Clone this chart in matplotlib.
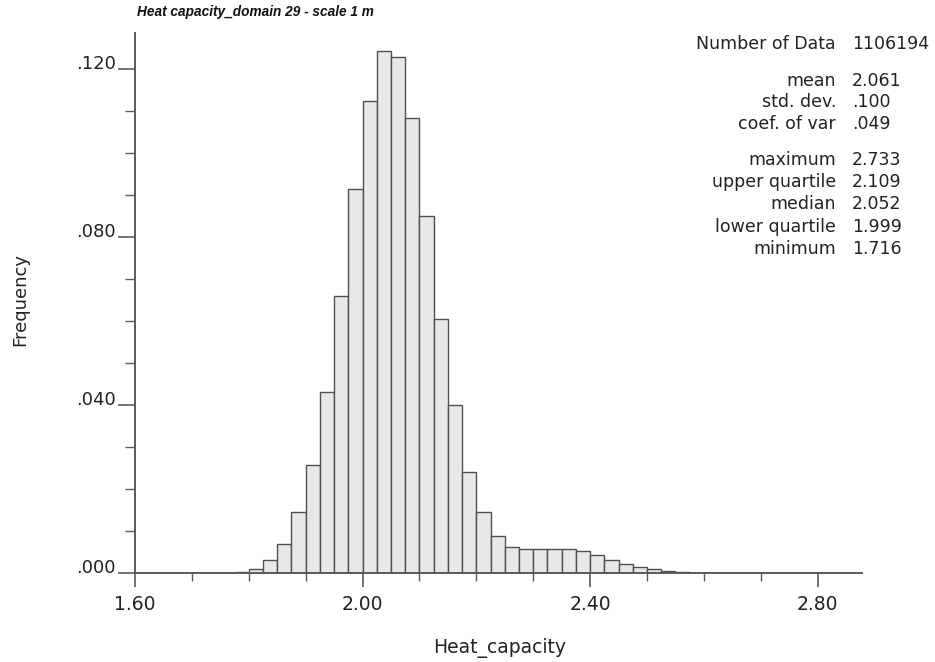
import numpy as np
import matplotlib
matplotlib.use("Agg")
import matplotlib.pyplot as plt
from matplotlib.ticker import MultipleLocator

# Histogram data, class width 0.025 starting at 1.70
bin_start = 1.70
bin_width = 0.025
freq = [0.00003, 0.00005, 0.0001, 0.0003, 0.0010, 0.0032, 0.0069, 0.0146,
        0.0258, 0.0432, 0.0660, 0.0914, 0.1125, 0.1244, 0.1228, 0.1083,
        0.0849, 0.0606, 0.0401, 0.0240, 0.0146, 0.0087, 0.0061, 0.0056,
        0.0056, 0.0056, 0.0056, 0.0053, 0.0043, 0.0031, 0.0022, 0.0015,
        0.0010, 0.0005, 0.0002, 0.0001, 0.00005, 0.00003, 0.00002, 0.00001,
        0.00001, 0.00001]
bin_left = bin_start + bin_width * np.arange(len(freq))

x_ticks = [1.60, 2.00, 2.40, 2.80]
x_tick_labels = ["1.60", "2.00", "2.40", "2.80"]
y_ticks = [0.000, 0.040, 0.080, 0.120]
y_tick_labels = [".000", ".040", ".080", ".120"]

title = "Heat capacity_domain 29 - scale 1 m"
x_label = "Heat_capacity"
y_label = "Frequency"

stat_names = ["Number of Data", "mean", "std. dev.", "coef. of var",
              "maximum", "upper quartile", "median", "lower quartile", "minimum"]
stat_values = ["1106194", "2.061", ".100", ".049",
               "2.733", "2.109", "2.052", "1.999", "1.716"]

W, H = 935, 662
txt = "#222222"
axc = "#5a5a5a"

plt.rcParams["font.family"] = ["DejaVu Sans"]
fig = plt.figure(figsize=(W / 100, H / 100), dpi=100)
ax = fig.add_axes([135 / W, 1 - 573 / H, (862 - 135) / W, (573 - 33) / H])

ax.bar(bin_left, freq, width=bin_width, align="edge",
       color="#e8e8e8", edgecolor="#505050", linewidth=1.0, zorder=2)

ax.set_xlim(1.60, 2.878)
ax.set_ylim(0, 0.1286)

for s in ["top", "right"]:
    ax.spines[s].set_visible(False)
for s in ["left", "bottom"]:
    ax.spines[s].set_color(axc)
    ax.spines[s].set_linewidth(1.4)
    ax.spines[s].set_zorder(3)

ax.set_xticks(x_ticks)
ax.set_xticklabels(x_tick_labels, fontsize=13.5, color=txt)
ax.xaxis.set_minor_locator(MultipleLocator(0.1))
ax.set_yticks(y_ticks)
ax.set_yticklabels(y_tick_labels, fontsize=13, color=txt, va="baseline")
ax.yaxis.set_minor_locator(MultipleLocator(0.01))

ax.tick_params(axis="x", which="major", length=10, width=1.2, color=axc, pad=6)
ax.tick_params(axis="x", which="minor", length=6, width=1.0, color=axc)
ax.tick_params(axis="y", which="major", length=12, width=1.2, color=axc, pad=2)
ax.tick_params(axis="y", which="minor", length=7, width=1.0, color=axc)

fig.text(137 / W, 1 - 12 / H, title, fontsize=9.8, fontweight="bold",
         fontstyle="italic", family=["Liberation Sans", "DejaVu Sans"],
         color="#111111", ha="left", va="center")
fig.text(500 / W, 1 - 648 / H, x_label, fontsize=13.5, color=txt,
         ha="center", va="center")
fig.text(20 / W, 1 - 300 / H, y_label, fontsize=13, color=txt,
         rotation=90, ha="center", va="center")

# summary statistics block
row_y = [44, 81, 102, 124, 160, 182, 204, 227, 249]
for name, val, yy in zip(stat_names, stat_values, row_y):
    fig.text(836 / W, 1 - yy / H, name, fontsize=12.5, color=txt,
             ha="right", va="center")
    fig.text(852 / W, 1 - yy / H, val, fontsize=12.5, color=txt,
             ha="left", va="center")

fig.savefig("out.png", dpi=100)
